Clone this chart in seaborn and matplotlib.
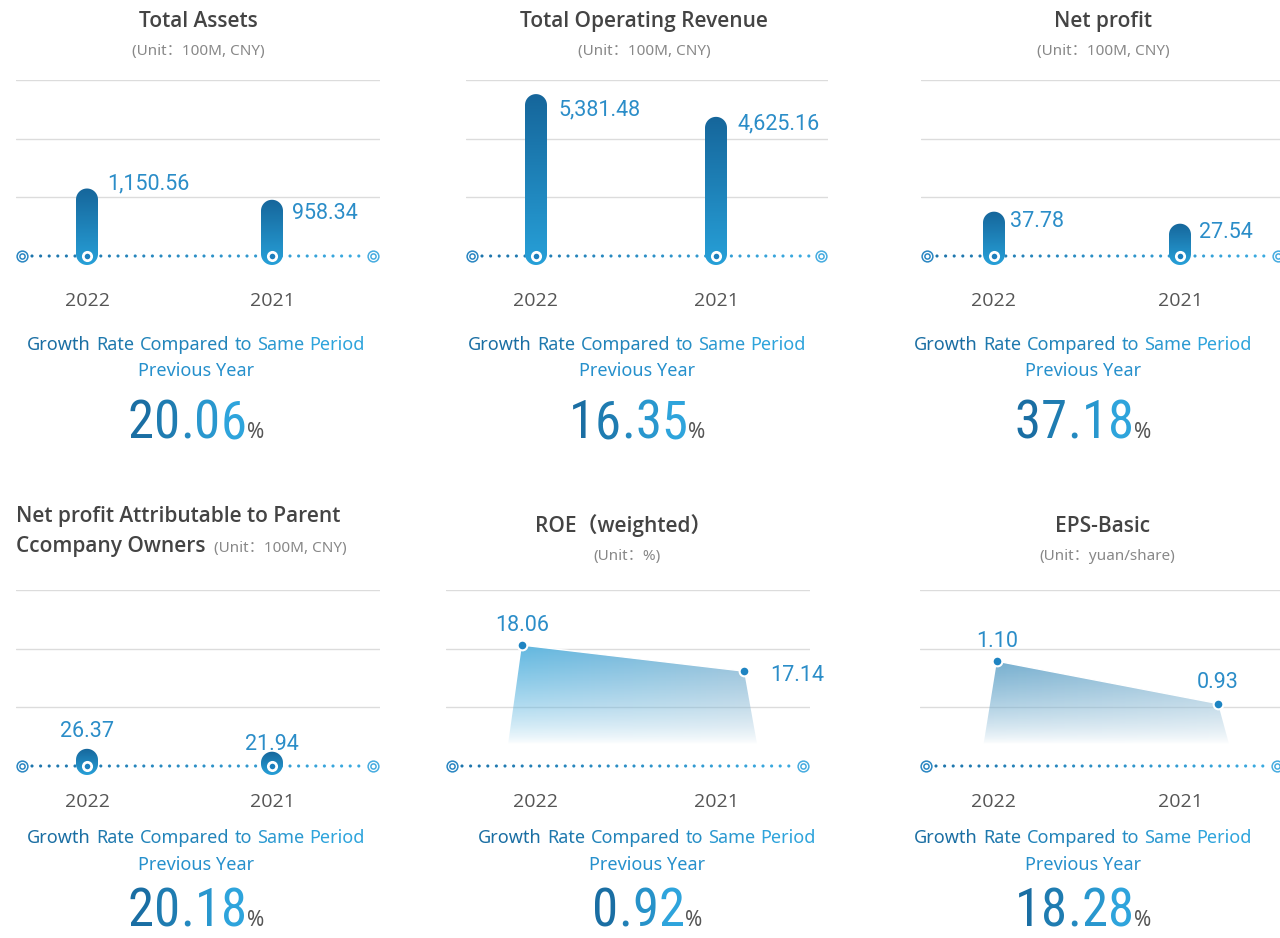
import numpy as np
import pandas as pd
import seaborn as sns
import matplotlib.pyplot as plt
from matplotlib import font_manager
from matplotlib.colors import LinearSegmentedColormap, to_rgb
from matplotlib.path import Path
from matplotlib.patches import PathPatch
from matplotlib.offsetbox import TextArea, HPacker, AnnotationBbox

# Data
YEARS = ["2022", "2021"]
TOTAL_ASSETS = [1150.56, 958.34]
OPERATING_REVENUE = [5381.48, 4625.16]
NET_PROFIT = [37.78, 27.54]
NET_PROFIT_PARENT = [26.37, 21.94]
ROE_WEIGHTED = [18.06, 17.14]
EPS_BASIC = [1.10, 0.93]
GROWTH_RATES = ["20.06", "16.35", "37.18", "20.18", "0.92", "18.28"]

TITLES = ["Total Assets", "Total Operating Revenue", "Net profit",
          "Net profit Attributable to Parent", "ROE（weighted）", "EPS-Basic"]
UNITS = ["(Unit：100M, CNY)", "(Unit：100M, CNY)", "(Unit：100M, CNY)",
         "(Unit：100M, CNY)", "(Unit：%)", "(Unit：yuan/share)"]

# Layout (pixels, origin top-left)
W, H = 1280, 938
PANEL_X = [(16, 380, 87, 272), (466, 828, 536, 716), (921, 1285, 994, 1180),
           (16, 380, 87, 272), (446, 810, 536, 716), (920, 1284, 994, 1180)]
ROWS = [dict(top=80, base=256, bottom=282, year=306, g1=345, g2=371, big=449),
        dict(top=590, base=766, bottom=792, year=807, g1=838, g2=865, big=937)]
TITLE_X = [198, 644, 1103, 16, 623, 1103]
GROWTH_X = [196, 637, 1083, 196, 647, 1083]
BAR_YMAX = [3000, 5850, 150, 270]
LINE_YLIM = [(13.8, 20.0), (0.68, 1.385)]
LINE_X = [(522, 744), (997, 1218)]
BAR_LABEL_OFFSETS = [[(20, -5), (20, 14)], [(22, 16), (22, 7)],
                     [(16, 10), (19, 9)], [(0, -17), (0, -7)]]
LINE_LABEL_OFFSETS = [[("above", 0, -20), ("right", 26, 4)],
                      [("above", 0, -20), ("above", 0, -21)]]

DARK = "#1a6ea3"
LIGHT = "#2ea4dc"
GRID = "#dcdcdc"
LABEL_COLOR = "#2b8dc8"
BAR_CMAP = LinearSegmentedColormap.from_list("bar", ["#27a0d8", "#16669b"])
DOT_CMAP = LinearSegmentedColormap.from_list("dot", ["#1d74ab", "#3aaae0"])

sns.set_theme(style="white")
plt.rcParams["font.family"] = ["Noto Sans", "Noto Sans CJK SC", "DejaVu Sans"]

fonts = font_manager.fontManager.ttflist
available = {f.name for f in fonts}


def pick(*names):
    return next(n for n in names if n in available)


def pick_medium(*names):
    # first family that ships a medium / semibold face
    for n in names:
        ws = sorted({f.weight for f in fonts if f.name == n and isinstance(f.weight, int)})
        for w in ws:
            if 500 <= w <= 600:
                return n, w
    return "Noto Sans", "bold"


NUM_FONT = pick("Liberation Sans Narrow", "Roboto Condensed", "Roboto", "DejaVu Sans")
LABEL_FONT = pick("Roboto", "DejaVu Sans")
TITLE_FONT, TITLE_WEIGHT = pick_medium("Noto Sans", "Open Sans", "Inter", "Roboto", "Lato")

fig = plt.figure(figsize=(W / 100, H / 100), dpi=100)
fig.patch.set_facecolor("white")


def px_axes(L, T, R, B):
    return fig.add_axes([L / W, 1 - B / H, (R - L) / W, (B - T) / H])


def blend(n):
    a, b = np.array(to_rgb(DARK)), np.array(to_rgb(LIGHT))
    return [tuple(a + (b - a) * t) for t in np.linspace(0, 1, n)]


def style_axes(ax, lo, hi, base_val, row, L, R):
    ax.set_yticks(np.linspace(base_val, hi, 4)[1:])
    ax.set_yticklabels([])
    ax.tick_params(length=0)
    ax.grid(axis="y", color=GRID, lw=1)
    ax.set_xticks([])
    ax.set_xlabel("")
    ax.set_ylabel("")
    for s in ax.spines.values():
        s.set_visible(False)
    # year labels
    for i, yr in enumerate(YEARS):
        ax.annotate(yr, (i, base_val), xytext=(0, -(row["year"] - row["base"])),
                    textcoords="offset pixels", ha="center", va="baseline",
                    fontsize=14, color="#555555", family="Open Sans")
    # dotted baseline with ring markers at the ends
    tr = ax.get_yaxis_transform()
    a0, a1 = 6 / (R - L), 1 - 7 / (R - L)
    xs = np.arange(a0 + 10 / (R - L), a1 - 6 / (R - L), 8.6 / (R - L))
    ax.scatter(xs, np.full(len(xs), base_val), s=5, c=np.linspace(0, 1, len(xs)),
               cmap=DOT_CMAP, transform=tr, lw=0, zorder=2, clip_on=False)
    for a, c in [(a0, "#2a86c2"), (a1, "#46ace0")]:
        ax.scatter([a], [base_val], s=60, facecolor="white", edgecolor=c, lw=1.1,
                   transform=tr, zorder=2, clip_on=False)
        ax.scatter([a], [base_val], s=14, facecolor="white", edgecolor=c, lw=1.1,
                   transform=tr, zorder=2, clip_on=False)


def gradient_bar(ax, xc, value, base_val, half_px=11, below_px=9):
    cx, top = ax.transData.transform((xc, value))
    _, base = ax.transData.transform((xc, base_val))
    bottom = base - below_px
    left, right = cx - half_px, cx + half_px
    r = min(half_px, (top - bottom) / 2)
    arcs = [((right - r, top - r), 0, 90), ((left + r, top - r), 90, 180),
            ((left + r, bottom + r), 180, 270), ((right - r, bottom + r), 270, 360)]
    pts = []
    for (ox, oy), t0, t1 in arcs:
        t = np.radians(np.linspace(t0, t1, 16))
        pts.append(np.column_stack([ox + r * np.cos(t), oy + r * np.sin(t)]))
    pts = np.vstack(pts + [pts[0][:1]])
    data_pts = ax.transData.inverted().transform(pts)
    patch = PathPatch(Path(data_pts), facecolor="none", edgecolor="none")
    ax.add_patch(patch)
    (x0, y0), (x1, y1) = data_pts.min(0), data_pts.max(0)
    img = ax.imshow(np.linspace(0, 1, 128).reshape(-1, 1), extent=(x0, x1, y0, y1),
                    origin="lower", cmap=BAR_CMAP, aspect="auto", zorder=3)
    img.set_clip_path(patch)
    ax.scatter([xc], [base_val], s=64, color="white", lw=0, zorder=5)
    ax.scatter([xc], [base_val], s=16, color="#1c7fbd", lw=0, zorder=6)


def bar_panel(idx, values):
    L, R, c0, c1 = PANEL_X[idx]
    row = ROWS[idx // 3]
    ax = px_axes(L, row["top"], R, row["bottom"])
    df = pd.DataFrame({"year": YEARS, "value": values})
    sns.barplot(data=df, x="year", y="value", order=YEARS, width=22 / (c1 - c0),
                color="#1c7fbd", ax=ax)
    span = c1 - c0
    ymax = BAR_YMAX[idx]
    per_px = ymax / (row["base"] - row["top"])
    ax.set_xlim((L - c0) / span, (R - c0) / span)
    ax.set_ylim(-(row["bottom"] - row["base"]) * per_px, ymax)
    style_axes(ax, 0, ymax, 0, row, L, R)
    bars = list(ax.patches)
    for bar, v, (dx, dy) in zip(bars, values, BAR_LABEL_OFFSETS[idx]):
        xc = bar.get_x() + bar.get_width() / 2
        bar.remove()
        gradient_bar(ax, xc, v, 0)
        ha = "center" if dx == 0 else "left"
        ax.annotate(f"{v:,.2f}", (xc, v), xytext=(dx, -dy), textcoords="offset pixels",
                    ha=ha, va="center", fontsize=15.5, color=LABEL_COLOR,
                    family=LABEL_FONT, zorder=7)


def line_panel(idx, values, colors):
    k = idx - 4
    L, R, c0, c1 = PANEL_X[idx]
    l0, l1 = LINE_X[k]
    row = ROWS[1]
    ax = px_axes(L, row["top"], R, row["bottom"])
    lo, hi = LINE_YLIM[k]
    per_px = (hi - lo) / (row["base"] - row["top"])
    ax.set_xlim((L - c0) / (c1 - c0), (R - c0) / (c1 - c0))
    ax.set_ylim(lo - (row["bottom"] - row["base"]) * per_px, hi)
    style_axes(ax, lo, hi, lo, row, L, R)

    tw = ax.twiny()
    span = l1 - l0
    tw.set_xlim((L - l0) / span, (R - l0) / span)
    df = pd.DataFrame({"pos": [0, 1], "value": values})
    sp = 17 / span
    # gradient area under the line
    poly = np.array([(-sp, lo), (0, values[0]), (1, values[1]), (1 + sp, lo)])
    patch = PathPatch(Path(np.vstack([poly, poly[:1]])), facecolor="none", edgecolor="none")
    tw.add_patch(patch)
    ny, nx = 200, 60
    yy = np.linspace(lo, max(values), ny)[:, None]
    fade = lo + 22 * per_px
    alpha = np.clip((yy - fade) / (max(values) - fade), 0, 1) ** 0.75
    c_l, c_r = np.array(to_rgb(colors[0])), np.array(to_rgb(colors[1]))
    t = np.linspace(0, 1, nx)[None, :, None]
    rgb = c_l + (c_r - c_l) * t
    rgba = np.concatenate([np.broadcast_to(rgb, (ny, nx, 3)),
                           np.broadcast_to(alpha[:, :, None], (ny, nx, 1))], axis=2)
    img = tw.imshow(rgba, extent=(-sp, 1 + sp, lo, max(values)), origin="lower",
                    aspect="auto", zorder=1)
    img.set_clip_path(patch)
    sns.lineplot(data=df, x="pos", y="value", ax=tw, color="white", lw=1.0,
                 marker="o", markersize=7, markerfacecolor="#1e84c2",
                 markeredgecolor="white", markeredgewidth=1.5, zorder=4)
    tw.set_xlim((L - l0) / span, (R - l0) / span)
    tw.set_ylim(ax.get_ylim())
    tw.set_xticks([])
    tw.set_xlabel("")
    tw.set_ylabel("")
    for s in tw.spines.values():
        s.set_visible(False)
    for i, (v, (pos, dx, dy)) in enumerate(zip(values, LINE_LABEL_OFFSETS[k])):
        tw.annotate(f"{v:.2f}", (i, v), xytext=(dx, -dy), textcoords="offset pixels",
                    ha="center" if pos == "above" else "left", va="center",
                    fontsize=15.5, color=LABEL_COLOR, family=LABEL_FONT)


def growth_block(idx):
    row = ROWS[idx // 3]
    cx = GROWTH_X[idx]
    words = ["Growth", "Rate", "Compared", "to", "Same", "Period"]
    kids = [TextArea(w, textprops=dict(color=c, fontsize=13, family="Noto Sans"))
            for w, c in zip(words, blend(len(words)))]
    box = HPacker(children=kids, sep=3.8, pad=0, align="baseline")
    fig.add_artist(AnnotationBbox(box, (cx, H - row["g1"]), xycoords="figure pixels",
                                  frameon=False, box_alignment=(0.5, 0.5), pad=0))
    fig.text(cx / W, 1 - row["g2"] / H, "Previous Year", ha="center", va="center",
             fontsize=13, color="#2690cc", family="Noto Sans")
    rate = GROWTH_RATES[idx]
    kids = [TextArea(ch, textprops=dict(color=c, fontsize=38, family=NUM_FONT))
            for ch, c in zip(rate, blend(len(rate)))]
    kids.append(TextArea("%", textprops=dict(color="#555555", fontsize=15,
                                              family="Noto Sans")))
    box = HPacker(children=kids, sep=0.2, pad=0, align="baseline")
    fig.add_artist(AnnotationBbox(box, (cx, H - row["big"]), xycoords="figure pixels",
                                  frameon=False, box_alignment=(0.5, 0.0), pad=0))


# Titles
TITLE_STYLE = dict(fontsize=15, color="#444444", family=TITLE_FONT, weight=TITLE_WEIGHT)
UNIT_STYLE = dict(fontsize=11, color="#888888")
for i in (0, 1, 2):
    fig.text(TITLE_X[i] / W, 1 - 27 / H, TITLES[i], ha="center", va="baseline", **TITLE_STYLE)
    fig.text(TITLE_X[i] / W, 1 - 55 / H, UNITS[i], ha="center", va="baseline", **UNIT_STYLE)
fig.text(TITLE_X[3] / W, 1 - 522 / H, TITLES[3], ha="left", va="baseline", **TITLE_STYLE)
box = HPacker(children=[TextArea("Ccompany Owners", textprops=TITLE_STYLE),
                        TextArea(UNITS[3], textprops=UNIT_STYLE)],
              sep=6, pad=0, align="baseline")
fig.add_artist(AnnotationBbox(box, (TITLE_X[3], H - 546), xycoords="figure pixels",
                              frameon=False, box_alignment=(0.0, 0.5), pad=0))
roe_style = dict(TITLE_STYLE, family=[TITLE_FONT, "Noto Sans CJK SC"])
for i in (4, 5):
    fig.text(TITLE_X[i] / W, 1 - 532 / H, TITLES[i], ha="center", va="baseline", **roe_style)
    fig.text((TITLE_X[i] + 4) / W, 1 - 560 / H, UNITS[i], ha="center", va="baseline",
             **UNIT_STYLE)

bar_panel(0, TOTAL_ASSETS)
bar_panel(1, OPERATING_REVENUE)
bar_panel(2, NET_PROFIT)
bar_panel(3, NET_PROFIT_PARENT)
line_panel(4, ROE_WEIGHTED, ["#5fb7e1", "#8ab9d5"])
line_panel(5, EPS_BASIC, ["#74aecf", "#9cc3da"])

for i in range(6):
    growth_block(i)

fig.savefig("out.png", dpi=100, facecolor="white")
